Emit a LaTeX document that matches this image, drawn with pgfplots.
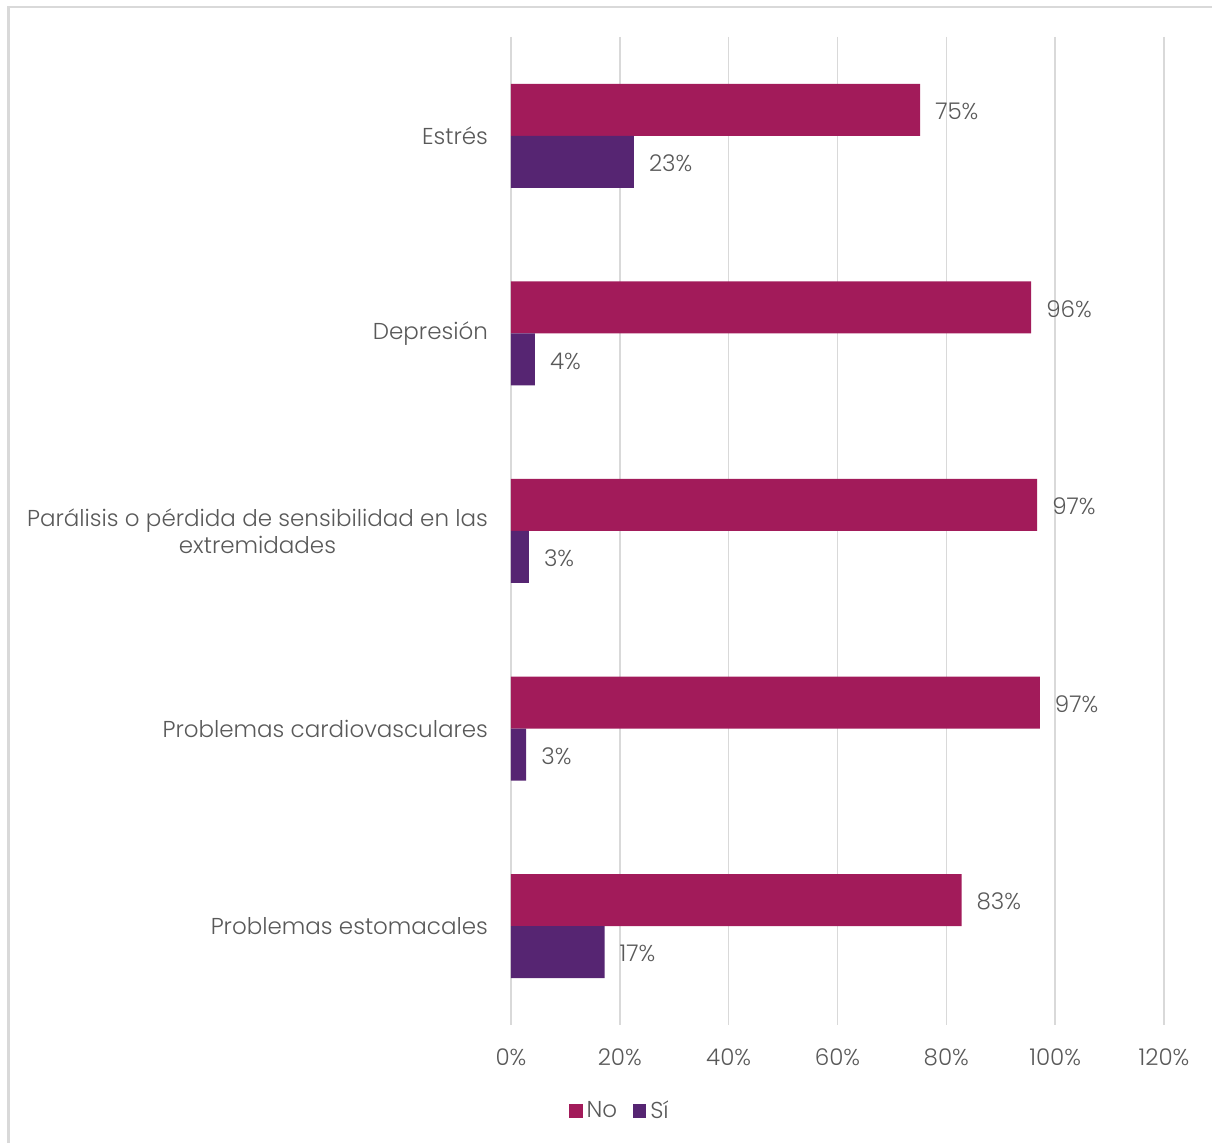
\documentclass[border=0pt]{standalone}
\usepackage{pgfplots}
\pgfplotsset{compat=1.18}
\usepackage{fontspec}
\setmainfont{Poppins}[UprightFont={* Light}]
\definecolor{cno}{HTML}{A21B5A}
\definecolor{csi}{HTML}{562572}
\definecolor{txt}{HTML}{595959}
\definecolor{grd}{HTML}{D9D9D9}
\begin{document}
\begin{tikzpicture}
\useasboundingbox (0,0) rectangle (606pt,571.5pt);
\draw[grd, line width=1.2pt] (4.3pt,-2pt) -- (4.3pt,568pt) -- (610pt,568pt);
\begin{axis}[
  at={(255.5pt,59pt)}, anchor=south west,
  scale only axis, width=326.5pt, height=494pt,
  xbar, bar width=26pt,
  xmin=0, xmax=120,
  ymin=-0.5, ymax=4.5, y dir=reverse,
  ytick={0,1,2,3,4},
  yticklabels={Estrés, Depresión, {Parálisis o pérdida de sensibilidad en las\\extremidades}, Problemas cardiovasculares, Problemas estomacales},
  xtick={0,20,...,120},
  xticklabel={\pgfmathprintnumber{\tick}\%},
  /pgf/number format/assume math mode=true,
  axis line style={draw=none},
  major tick length=0pt,
  xmajorgrids, grid style={grd, line width=0.8pt},
  font=\fontsize{11.5}{13.5}\selectfont,
  ticklabel style={text=txt},
  yticklabel style={align=center, xshift=-8pt},
  xticklabel style={yshift=-8.5pt},
  nodes near coords={\pgfmathprintnumber[fixed,precision=0]{\pgfplotspointmeta}\%},
  nodes near coords style={text=txt, anchor=west, xshift=4pt, yshift=-0.8pt, /pgf/number format/assume math mode=true},
  legend style={at={(0.1685,-0.087)}, anchor=center, draw=none, legend columns=2, text=txt, font=\fontsize{11.5}{13.5}\selectfont, /tikz/every even column/.append style={column sep=6pt}, inner sep=0pt},
  legend image code/.code={\fill[#1] (0pt,-3.3pt) rectangle (6.6pt,3.3pt);},
  legend cell align=left,
  clip=false,
]
\addplot[fill=cno, draw=none, bar shift=13pt] coordinates {(75.2,0) (95.6,1) (96.7,2) (97.2,3) (82.8,4)};
\addplot[fill=csi, draw=none, bar shift=-13pt] coordinates {(22.6,0) (4.4,1) (3.3,2) (2.8,3) (17.2,4)};
\legend{No, Sí}
\end{axis}
\end{tikzpicture}
\end{document}
